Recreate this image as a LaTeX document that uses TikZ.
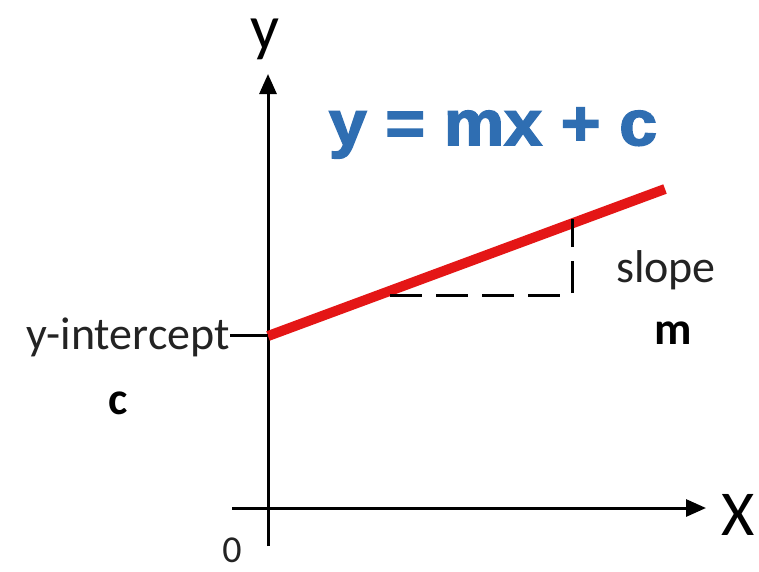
\documentclass[tikz,border=0pt]{standalone}
\usepackage{fontspec}
\setmainfont{Carlito}
\newfontfamily\titlefont[FakeBold=2.5]{Liberation Sans Bold}
\usetikzlibrary{arrows.meta}
\definecolor{eqblue}{RGB}{47,110,178}
\definecolor{linered}{RGB}{228,22,22}
\definecolor{txt}{RGB}{35,35,35}
\begin{document}
\begin{tikzpicture}[x=1pt,y=-1pt,
  axis/.style={line width=3pt,-{Triangle[length=20pt,width=17pt]}},
  plain/.style={line width=3pt},
  lbl/.style={text=txt,inner sep=0pt,font=\fontsize{46}{50}\selectfont},
  blbl/.style={text=black,inner sep=0pt,font=\fontsize{46}{50}\selectfont\bfseries},
  biglbl/.style={text=black,inner sep=0pt},
  dashline/.style={line width=3pt,dash pattern=on 32pt off 14pt}]
\useasboundingbox (0,0) rectangle (759,571);
\fill[white] (0,0) rectangle (759,571);
% axes
\coordinate (ybot) at (268,546);
\coordinate (ytop) at (268,74);
\coordinate (xleft) at (232,508);
\coordinate (xright) at (706,508);
\draw[axis] (ybot) -- (ytop);
\draw[axis] (xleft) -- (xright);
% axis labels
\node[biglbl,font=\fontsize{64}{68}\selectfont,anchor=base] (ylab) at (265,49) {y};
\node[biglbl,font=\fontsize{64}{70}\selectfont] (xlab) at (738,515) {X};
\node[lbl,font=\fontsize{38}{42}\selectfont] (zero) at (232,550) {0};
% red line
\coordinate (lstart) at (268,336);
\coordinate (lend) at (665,189);
\draw[linered,line width=10pt] (lstart) -- (lend);
% dashed triangle
\coordinate (d1) at (390,295);
\coordinate (d2) at (572,295);
\coordinate (d3) at (572,219);
\draw[dashline] (d1) -- (d2) -- (d3);
% title
\node[text=eqblue,inner sep=0pt,xscale=1.06,font=\titlefont\fontsize{64}{70}\selectfont] (eq) at (493,133) {y = mx + c};
% labels
\node[lbl,anchor=east] (yint) at (230,337) {y-intercept};
\coordinate (yintaxis) at (268,335);
\coordinate (tickstart) at (230,335);
\draw[plain] (tickstart) -- (yintaxis);
\node[blbl] (clab) at (118,403) {c};
\node[lbl] (slope) at (666,270) {slope};
\node[blbl] (mlab) at (673,333) {m};
\end{tikzpicture}
\end{document}
